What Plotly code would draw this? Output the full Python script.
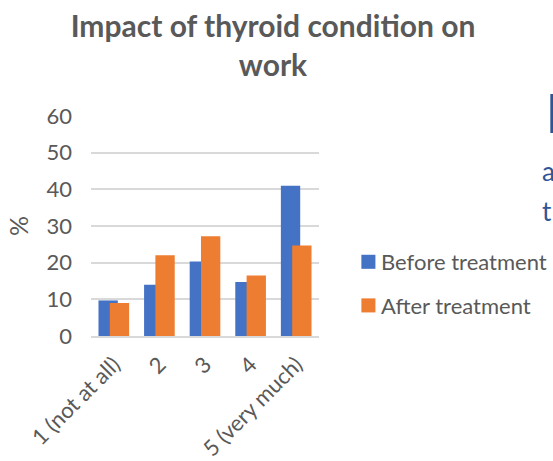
import plotly.graph_objects as go

categories = ["1 (not at all)", "2", "3", "4", "5 (very much)"]
before = [9.7, 14, 20.3, 14.7, 41]
after = [9, 22, 27.2, 16.5, 24.7]
yticks = [0, 10, 20, 30, 40, 50, 60]
FONT = "Lato"
GREY = "#595959"
W, H = 553, 461
L, R, T, B = 91, 319, 115.7, 335.7

fig = go.Figure()
fig.add_bar(x=categories, y=before, name="Before treatment", marker_color="#4472C4", legendgroup="a",
            width=0.424, offset=-0.336, marker_line_width=0)
fig.add_bar(x=categories, y=after, name="After treatment", marker_color="#ED7D31", legendgroup="b",
            width=0.424, offset=-0.088, marker_line_width=0)
fig.update_layout(
    width=W, height=H, barmode="overlay", autosize=False,
    paper_bgcolor="white", plot_bgcolor="white",
    font=dict(family=FONT, color=GREY, size=22),
    margin=dict(l=L, r=W - R, t=T, b=H - B),
    title=dict(text="<b>Impact of thyroid condition on<br>work</b>", x=273 / W, xanchor="center",
               y=1 - 37 / H, yanchor="middle", font=dict(size=30, family=FONT, color=GREY)),
    legend=dict(x=341 / W, xref="container", y=1 - 241 / H, yref="container", yanchor="top", xanchor="left",
                font=dict(size=22, family=FONT, color=GREY), itemwidth=30,
                traceorder="grouped", tracegroupgap=12, bgcolor="rgba(0,0,0,0)"),
)
fig.update_xaxes(tickangle=-45, tickfont=dict(size=22), showgrid=False, showline=True, automargin=False,
                 linecolor="#D9D9D9", linewidth=2, ticks="", range=[-0.5, 4.5], ticklabelstandoff=5)
fig.update_yaxes(range=[0, 60], tickvals=yticks, gridcolor="#D9D9D9", gridwidth=1.5, automargin=False,
                 tickfont=dict(size=22), zeroline=False, showline=False, ticks="", ticklabelstandoff=18,
                 title=dict(text="%", font=dict(size=25), standoff=10))
for txt, y in [("a", 171), ("t", 211)]:
    fig.add_annotation(text=txt, xref="paper", yref="paper", x=(542 - L) / (R - L),
                       y=1 - (y - T) / (B - T), xanchor="left", yanchor="middle", showarrow=False,
                       font=dict(size=26, color="#2F5597", family=FONT), borderpad=0, borderwidth=0)
fig.add_annotation(text="<b>D</b>", xref="paper", yref="paper", x=(544 - L) / (R - L),
                   y=1 - (112 - T) / (B - T), xanchor="left", yanchor="middle", showarrow=False,
                   font=dict(size=54, color="#2F5597", family=FONT))
fig.write_html("out.html", config={"displayModeBar": False},
               post_script="document.body.style.margin='0';document.body.style.overflow='hidden';"
                           "document.querySelectorAll('.legendpoints').forEach(function(e){e.setAttribute('transform','translate(4,0) scale(1.17)');});")
